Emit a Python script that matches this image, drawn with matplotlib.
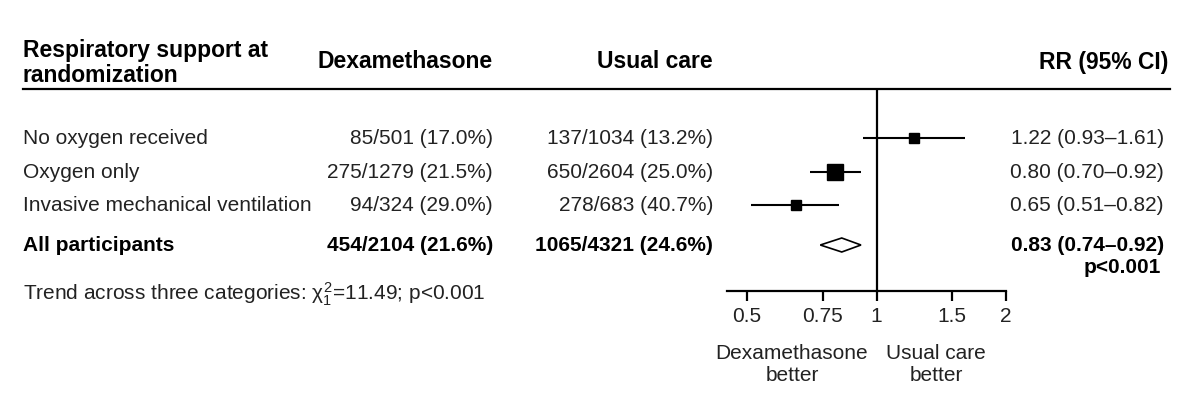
import matplotlib
matplotlib.use("Agg")
import matplotlib.pyplot as plt
from matplotlib.patches import Polygon

plt.rcParams['font.family'] = ['Liberation Sans', 'DejaVu Sans']
plt.rcParams['mathtext.fontset'] = 'custom'
plt.rcParams['mathtext.rm'] = 'Liberation Sans'
plt.rcParams['mathtext.it'] = 'Liberation Sans'

categories = ["No oxygen received", "Oxygen only", "Invasive mechanical ventilation"]
dexa = ["85/501 (17.0%)", "275/1279 (21.5%)", "94/324 (29.0%)"]
usual = ["137/1034 (13.2%)", "650/2604 (25.0%)", "278/683 (40.7%)"]
rr = [1.22, 0.80, 0.65]
lo = [0.93, 0.70, 0.51]
hi = [1.61, 0.92, 0.82]
rr_text = ["1.22 (0.93\u20131.61)", "0.80 (0.70\u20130.92)", "0.65 (0.51\u20130.82)"]
box_size = [6.5, 11.5, 6.8]

total_label = "All participants"
total_dexa = "454/2104 (21.6%)"
total_usual = "1065/4321 (24.6%)"
total_rr, total_lo, total_hi = 0.83, 0.74, 0.92
total_text = "0.83 (0.74\u20130.92)"

ticks = [0.5, 0.75, 1, 1.5, 2]
tick_labels = ["0.5", "0.75", "1", "1.5", "2"]

W, H = 1200, 406
fig = plt.figure(figsize=(12, 4.06), dpi=100)
bg = fig.add_axes([0, 0, 1, 1])
bg.set_xlim(0, W)
bg.set_ylim(H, 0)
bg.axis('off')

fs = 15
hfs = 16.5
col = '#222222'
# headers
bg.text(23, 63, "Respiratory support at\nrandomization", fontsize=hfs, fontweight='bold',
        ha='left', va='center', linespacing=1.08)
bg.text(493, 62, "Dexamethasone", fontsize=hfs, fontweight='bold', ha='right', va='center')
bg.text(713, 62, "Usual care", fontsize=hfs, fontweight='bold', ha='right', va='center')
bg.text(1168, 62, "RR (95% CI)", fontsize=hfs, fontweight='bold', ha='right', va='center')
bg.plot([23, 1170], [90, 90], color='black', lw=1.6)

row_y = [139, 173, 206]
for y, c, d, u, t in zip(row_y, categories, dexa, usual, rr_text):
    bg.text(23, y, c, fontsize=fs, ha='left', va='center', color=col)
    bg.text(493, y, d, fontsize=fs, ha='right', va='center', color=col)
    bg.text(713, y, u, fontsize=fs, ha='right', va='center', color=col)
    bg.text(1164, y, t, fontsize=fs, ha='right', va='center', color=col)

ty = 246
bg.text(23, ty, total_label, fontsize=fs, fontweight='bold', ha='left', va='center')
bg.text(493, ty, total_dexa, fontsize=fs, fontweight='bold', ha='right', va='center')
bg.text(713, ty, total_usual, fontsize=fs, fontweight='bold', ha='right', va='center')
bg.text(1164, ty, total_text, fontsize=fs, fontweight='bold', ha='right', va='center')
bg.text(1161, 268, "p<0.001", fontsize=fs, fontweight='bold', ha='right', va='center')

bg.text(23, 294, r"Trend across three categories: $\chi^2_1$=11.49; p<0.001", fontsize=fs,
        ha='left', va='center', color=col)

bg.text(792, 365, "Dexamethasone\nbetter", fontsize=fs, ha='center', va='center', color=col,
        linespacing=1.2)
bg.text(936, 365, "Usual care\nbetter", fontsize=fs, ha='center', va='center', color=col,
        linespacing=1.2)

# forest axes
x0, x1 = 727, 1006
ytop, ybot = 90, 292
ax = fig.add_axes([x0 / W, 1 - ybot / H, (x1 - x0) / W, (ybot - ytop) / H])
ax.set_xscale('log')
ax.set_xlim(0.449, 2.0)
ax.set_ylim(ybot, ytop)
ax.patch.set_alpha(0)
for s in ['top', 'right', 'left']:
    ax.spines[s].set_visible(False)
ax.spines['bottom'].set_linewidth(1.6)
ax.set_yticks([])
ax.set_xticks(ticks)
ax.set_xticklabels(tick_labels, fontsize=fs, color=col)
ax.minorticks_off()
ax.tick_params(axis='x', direction='out', length=7, width=1.6, pad=4)
ax.axvline(1, color='black', lw=1.6)

for y, r, l, h, s in zip(row_y, rr, lo, hi, box_size):
    ax.plot([l, h], [y, y], color='black', lw=1.5, solid_capstyle='butt')
    ax.plot([r], [y], marker='s', ms=s, color='black', mec='black')

diamond = Polygon([[total_lo, ty], [total_rr, ty - 7], [total_hi, ty], [total_rr, ty + 7]],
                  closed=True, facecolor='white', edgecolor='black', lw=1.2)
ax.add_patch(diamond)

fig.savefig("out.png", dpi=100)
